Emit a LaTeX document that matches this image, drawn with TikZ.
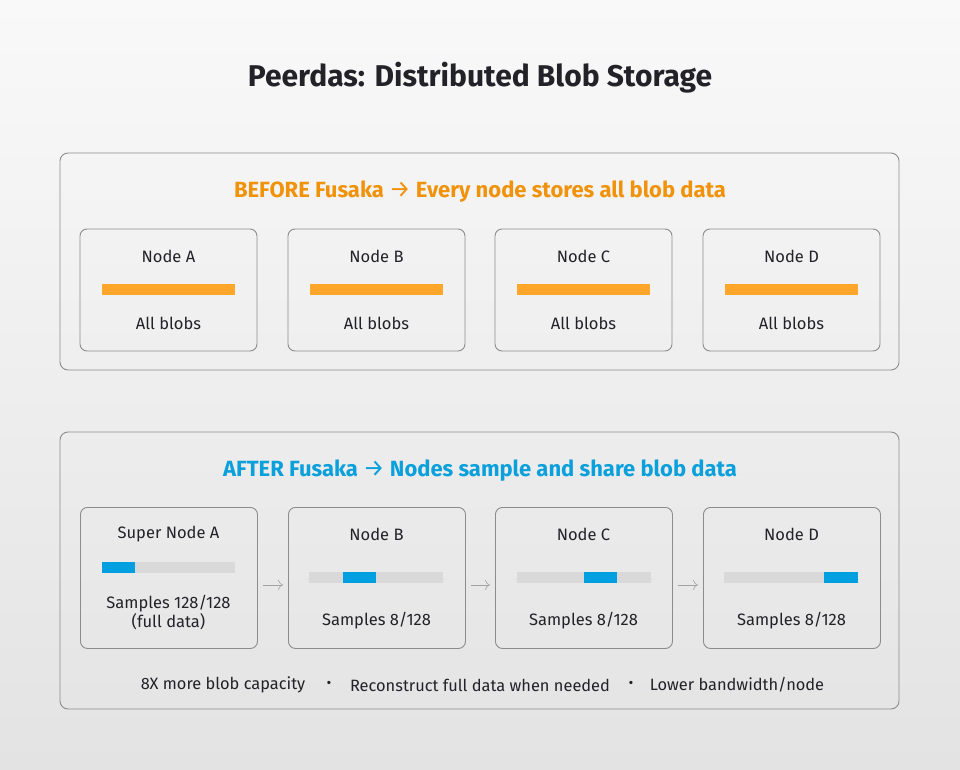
\documentclass[tikz,border=0pt]{standalone}
\usepackage{fontspec}
\setmainfont{Fira Sans}
\usetikzlibrary{arrows.meta}
\definecolor{txt}{HTML}{222228}
\definecolor{orng}{HTML}{F0930A}
\definecolor{orbar}{HTML}{FFA62B}
\definecolor{blu}{HTML}{0AA0DC}
\definecolor{blbar}{HTML}{009FDF}
\definecolor{grbar}{HTML}{D9D9D9}
\definecolor{boxline}{HTML}{8C8C8C}
\definecolor{bgtop}{HTML}{F9F9F9}
\definecolor{bgbot}{HTML}{E3E3E3}
\newcommand{\thinarr}{{\mdseries\fontsize{24}{26}\selectfont →}}
\tikzset{
  panel/.style={draw=boxline, line width=0.9pt, rounded corners=8pt},
  nodebox/.style={draw=boxline, line width=0.9pt, rounded corners=7pt},
  lbl/.style={text=txt, font=\fontsize{16.5}{19}\selectfont, inner sep=0pt, align=center},
  head/.style={font=\fontsize{22}{26}\selectfont\bfseries, inner sep=0pt},
  foot/.style={text=txt, font=\fontsize{16.4}{19}\selectfont, inner sep=0pt},
  flow/.style={draw=grbar!75!black, line width=0.6pt, -{To[length=5pt,width=10pt]}},
}
\begin{document}
\begin{tikzpicture}[x=1pt,y=-1pt]
\useasboundingbox (0,0) rectangle (960,770);
\shade[top color=bgtop, bottom color=bgbot] (0,0) rectangle (960,770);
\node[text=txt, font=\fontsize{30}{35}\selectfont\bfseries, inner sep=0pt] (title) at (480,78) {Peerdas: Distributed Blob Storage};

% BEFORE panel
\draw[panel] (60,153) rectangle (899,370);
\node[head, text=orng] (h1) at (480,192) {BEFORE Fusaka \thinarr{} Every node stores all blob data};
\foreach \n/\x in {A/80,B/288,C/495,D/703}{
  \draw[nodebox] (\x,229) rectangle ++(177,122);
  \node[lbl] (t1\n) at (\x+88.5,256) {Node \n};
  \fill[orbar] (\x+22,284) rectangle ++(133,11);
  \node[lbl] (b1\n) at (\x+88.5,323) {All blobs};
}

% AFTER panel
\draw[panel] (60,432) rectangle (899,709);
\node[head, text=blu] (h2) at (480,471) {AFTER Fusaka \thinarr{} Nodes sample and share blob data};
\node[nodebox, minimum width=177pt, minimum height=141pt, anchor=north west] (nA) at (80,507) {};
\node[nodebox, minimum width=177pt, minimum height=141pt, anchor=north west] (nB) at (288,507) {};
\node[nodebox, minimum width=177pt, minimum height=141pt, anchor=north west] (nC) at (495,507) {};
\node[nodebox, minimum width=177pt, minimum height=141pt, anchor=north west] (nD) at (703,507) {};

\node[lbl] (tA) at (168.5,534) {Super Node A};
\fill[grbar] (102,562) rectangle (235,573);
\fill[blbar] (102,562) rectangle (135,573);
\node[lbl] (sA) at (168.5,604) {Samples 128/128};
\node[lbl] (fA) at (168.5,622) {(full data)};

\node[lbl] (tB) at (376.5,534) {Node B};
\fill[grbar] (309,572) rectangle (443,583);
\fill[blbar] (343,572) rectangle (376,583);
\node[lbl] (sB) at (376.5,621) {Samples 8/128};

\node[lbl] (tC) at (583.5,534) {Node C};
\fill[grbar] (517,572) rectangle (651,583);
\fill[blbar] (584,572) rectangle (617,583);
\node[lbl] (sC) at (583.5,621) {Samples 8/128};

\node[lbl] (tD) at (791.5,534) {Node D};
\fill[grbar] (724,572) rectangle (858,583);
\fill[blbar] (824,572) rectangle (858,583);
\node[lbl] (sD) at (791.5,621) {Samples 8/128};

\draw[flow] ([xshift=5pt,yshift=-7pt]nA.east) -- ([xshift=-5pt,yshift=-7pt]nB.west);
\draw[flow] ([xshift=5pt,yshift=-7pt]nB.east) -- ([xshift=-5pt,yshift=-7pt]nC.west);
\draw[flow] ([xshift=5pt,yshift=-7pt]nC.east) -- ([xshift=-5pt,yshift=-7pt]nD.west);

\node[foot] (f1) at (223,685) {8X more blob capacity};
\node[foot, font=\fontsize{18}{19}\selectfont\bfseries] (d1) at (329,685) {·};
\node[foot] (f2) at (480,685) {Reconstruct full data when needed};
\node[foot, font=\fontsize{18}{19}\selectfont\bfseries] (d2) at (631,685) {·};
\node[foot] (f3) at (737,685) {Lower bandwidth/node};
\end{tikzpicture}
\end{document}
